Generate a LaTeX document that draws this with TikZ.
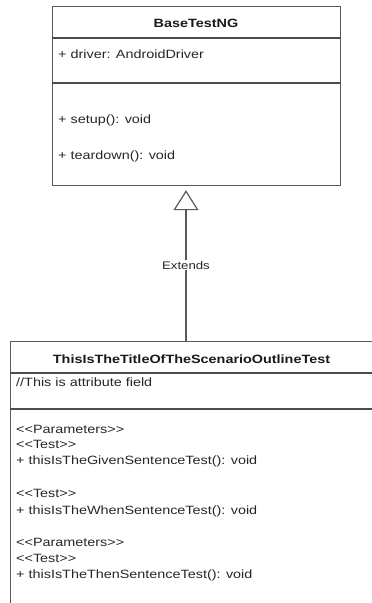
\documentclass[tikz,border=0pt]{standalone}
\usepackage{fontspec}
\setmainfont{Liberation Sans}[Ligatures=TeXOff]
\usetikzlibrary{arrows.meta}
% text in this diagram is set a little wider than its height
\newcommand{\wide}[1]{\scalebox{1.2}[1]{#1}}

\begin{document}
\begin{tikzpicture}[x=1pt,y=-1pt,
  frame/.style={draw=black!65, line width=1.2pt, inner sep=0pt, anchor=north west},
  rule/.style={draw=black!70, line width=1.2pt},
  member/.style={anchor=base west, inner sep=0pt, font=\fontsize{12}{14}\selectfont, text=black!85},
  heading/.style={anchor=base, inner sep=0pt, font=\fontsize{12}{14}\selectfont\bfseries, text=black!90},
  extends/.style={draw=black!65, line width=1.2pt,
    -{Triangle[open, width=25pt, length=20pt, fill=white]}, shorten >=4pt},
  tag/.style={fill=white, inner sep=1pt, font=\fontsize{11}{13}\selectfont, text=black!85},
]
\useasboundingbox (0,0) rectangle (372,603);
\clip (0,0) rectangle (372,603);

% superclass
\node[frame, minimum width=288pt, minimum height=179pt] (base) at (52,6) {};
\draw[rule] ([yshift=-32pt]base.north west) -- ([yshift=-32pt]base.north east);
\draw[rule] ([yshift=-77pt]base.north west) -- ([yshift=-77pt]base.north east);
\node[heading] (baseTitle) at (196,27) {\wide{BaseTestNG}};
\node[member] (baseAttr) at (58,58) {\wide{+ driver: AndroidDriver}};
\node[member] (baseSetup) at (58,123) {\wide{+ setup(): void}};
\node[member] (baseTeardown) at (58,159) {\wide{+ teardown(): void}};

% subclass (runs past the right and bottom edges)
\node[frame, minimum width=363pt, minimum height=300pt] (sub) at (10,341) {};
\draw[rule] ([yshift=-32pt]sub.north west) -- ([yshift=-32pt]sub.north east);
\draw[rule] ([yshift=-68pt]sub.north west) -- ([yshift=-68pt]sub.north east);
\node[heading] (subTitle) at (191.5,363) {\wide{ThisIsTheTitleOfTheScenarioOutlineTest}};
\node[member] (subAttr) at (16,386) {\wide{//This is attribute field}};
\node[member] (p1) at (16,433) {\wide{<<Parameters>>}};
\node[member] (t1) at (16,448) {\wide{<<Test>>}};
\node[member] (m1) at (16,464) {\wide{+ thisIsTheGivenSentenceTest(): void}};
\node[member] (t2) at (16,497) {\wide{<<Test>>}};
\node[member] (m2) at (16,514) {\wide{+ thisIsTheWhenSentenceTest(): void}};
\node[member] (p3) at (16,546) {\wide{<<Parameters>>}};
\node[member] (t3) at (16,562) {\wide{<<Test>>}};
\node[member] (m3) at (16,578) {\wide{+ thisIsTheThenSentenceTest(): void}};

% generalisation
\coordinate (foot) at (186,341);
\draw[extends] (foot) -- (foot |- base.south)
  node[tag, pos=0.49] (ext) {\wide{Extends}};
\end{tikzpicture}
\end{document}
